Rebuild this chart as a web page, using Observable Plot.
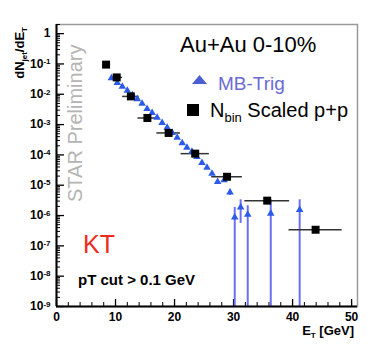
<!DOCTYPE html>
<html>
<head>
<meta charset="utf-8">
<script src="https://cdn.jsdelivr.net/npm/d3@7"></script>
<script src="https://cdn.jsdelivr.net/npm/@observablehq/plot@0.6"></script>
<style>
  html, body { margin: 0; padding: 0; background: white; }
  svg { display: block; }
</style>
</head>
<body>
<div id="chart"></div>
<script>
// N_bin scaled p+p (black squares)
const ppE = [8.4, 10.2, 12.6, 15.4, 19.0, 23.5, 28.9, 35.7, 43.9];
const ppVal = [0.095, 0.036, 0.0085, 1.65e-3, 5.3e-4, 1.1e-4, 1.9e-5, 3.1e-6, 3.4e-7];
const ppErrX = [0.6, 1.0, 1.4, 1.6, 2.0, 2.4, 2.6, 3.8, 4.5];

// MB-Trig (blue triangles)
const mbE = [9.3, 10.3, 11.15, 12.0, 12.85, 13.7, 14.5, 15.35, 16.2, 17.05, 17.9, 18.75, 19.6,
             20.45, 21.3, 22.1, 22.95, 23.8, 24.65, 25.5, 26.35, 27.3, 28.4, 29.4,
             30.2, 31.2, 32.4, 36.3, 41.2];
const mbVal = [0.034, 0.024, 0.0178, 0.0132, 0.0093, 0.0069, 0.0049, 0.0033, 0.00246, 0.0017,
               0.00115, 0.00079, 0.00054, 0.00037, 0.000244, 0.000174, 0.000128, 8.7e-5,
               5.5e-5, 3.8e-5, 2.4e-5, 1.3e-5, 1.47e-5, 5.8e-6,
               8.7e-7, 1.85e-6, 1.07e-6, 1.17e-6, 1.55e-6];
const mbErrE = [29.4, 30.2, 31.2, 32.4, 36.3, 41.2];
const mbErrHi = [7.2e-6, 1.85e-6, 3.3e-6, 2.1e-6, 3.3e-6, 3.3e-6];
const mbErrLo = [4.6e-6, 1e-9, 5.5e-7, 1e-9, 1e-9, 1e-9];

// axes
const xTicks = [0, 10, 20, 30, 40, 50];
const xMinor = [2,4,6,8,12,14,16,18,22,24,26,28,32,34,36,38,42,44,46,48,50];
const yDecades = [1, 1e-1, 1e-2, 1e-3, 1e-4, 1e-5, 1e-6, 1e-7, 1e-8, 1e-9];
const yExp = [0, -1, -2, -3, -4, -5, -6, -7, -8, -9];
const yMinor = [];
for (const d of yDecades) for (const m of [2,3,4,5,6,7,8,9]) if (d * m <= 2) yMinor.push(d * m);

const W = 382, H = 350, mL = 56, mR = 25, mT = 24, mB = 44;
const pw = W - mL - mR, ph = H - mT - mB;

const plot = Plot.plot({
  width: W, height: H,
  marginLeft: mL, marginRight: mR, marginTop: mT, marginBottom: mB,
  x: {domain: [0, 51]},
  y: {type: "log", domain: [1e-9, 2]},
  style: {fontFamily: "'Liberation Sans', Arial, sans-serif", background: "white", color: "black"},
  marks: [
    Plot.frame({stroke: "#9a9a9a", strokeWidth: 1.5}),
    Plot.tickY(yDecades, {y: d => d, insetRight: pw - 8, stroke: "black", strokeWidth: 1.3}),
    Plot.tickY(yMinor, {y: d => d, insetRight: pw - 4, stroke: "black", strokeWidth: 1}),
    Plot.tickX(xTicks, {x: d => d, insetTop: ph - 7, stroke: "black", strokeWidth: 1.3}),
    Plot.tickX(xMinor, {x: d => d, insetTop: ph - 4, stroke: "black", strokeWidth: 1}),
    Plot.ruleX(mbErrE, {x: d => d, y1: (d, i) => mbErrLo[i], y2: (d, i) => mbErrHi[i], stroke: "#6e6ef0", strokeWidth: 2}),
    Plot.ruleY(ppE, {y: (d, i) => ppVal[i], x1: (d, i) => d - ppErrX[i], x2: (d, i) => d + ppErrX[i], stroke: "#333", strokeWidth: 1.5}),
    Plot.dot(mbE, {x: d => d, y: (d, i) => mbVal[i], symbol: "triangle", r: 2.8, fill: "#2b5be8", stroke: "none"}),
    Plot.dot(ppE, {x: d => d, y: (d, i) => ppVal[i], symbol: "square", r: 4.5, fill: "black", stroke: "none"}),
    Plot.ruleX([0], {stroke: "black", strokeWidth: 2}),
    Plot.ruleY([1e-9], {stroke: "black", strokeWidth: 2}),
    Plot.axisX({ticks: xTicks, tickSize: 0, tickPadding: 6, fontWeight: "bold", fontSize: 12, label: null}),
    Plot.axisY({ticks: yDecades, tickSize: 0, tickPadding: 6, fontWeight: "bold", fontSize: 12, label: null,
      tickFormat: d => { const e = Math.round(Math.log10(d)); return e === 0 ? "1" : "10^" + e; }})
  ]
});
document.getElementById("chart").appendChild(plot);

const svg = d3.select(plot);
const font = "'Liberation Sans', Arial, sans-serif";

// superscripts in y tick labels
svg.selectAll('g[aria-label="y-axis tick label"] text').each(function() {
  const t = d3.select(this);
  const s = t.text();
  if (s.indexOf("^") < 0) return;
  const [b, e] = s.split("^");
  t.text(null);
  t.append("tspan").text(b);
  t.append("tspan").attr("dy", "-0.45em").attr("font-size", 8).text(e);
});

function addText(x, y, parts, opts = {}) {
  const t = svg.append("text")
    .attr("x", x).attr("y", y)
    .attr("font-family", font)
    .attr("font-size", opts.size || 12)
    .attr("font-weight", opts.weight || "normal")
    .attr("fill", opts.fill || "black")
    .attr("text-anchor", opts.anchor || "start");
  if (opts.transform) t.attr("transform", opts.transform).attr("x", 0).attr("y", 0);
  let shift = 0;
  for (const p of parts) {
    const sp = t.append("tspan").text(p.t);
    const target = p.sub ? (p.subDy || 4) : 0;
    if (target !== shift) { sp.attr("dy", target - shift); shift = target; }
    if (p.size) sp.attr("font-size", p.size);
  }
  return t;
}

addText(180, 52, [{t: "Au+Au 0-10%"}], {size: 22});
svg.append("path").attr("d", "M192,84L207,84L199.5,75Z").attr("fill", "#4b5fd2");
addText(218, 90, [{t: "MB-Trig"}], {size: 19, fill: "#6b6bd6"});
svg.append("rect").attr("x", 187).attr("y", 104).attr("width", 12).attr("height", 12).attr("fill", "black");
addText(210, 117, [{t: "N"}, {t: "bin", sub: true, size: 13, subDy: 5}, {t: " Scaled p+p"}], {size: 20});
addText(0, 0, [{t: "STAR Preliminary"}], {size: 20, fill: "#b4b4b4", transform: "translate(82,202) rotate(-90)"});
addText(83, 253, [{t: "KT"}], {size: 25, fill: "#ee2a1c"});
addText(78, 285, [{t: "pT cut > 0.1 GeV"}], {size: 15, weight: "bold"});
addText(0, 0, [{t: "dN"}, {t: "jet", sub: true, size: 8, subDy: 3}, {t: "/dE"}, {t: "T", sub: true, size: 8, subDy: 3}],
  {size: 13, weight: "bold", anchor: "end", transform: "translate(24,27) rotate(-90)"});
addText(354, 335, [{t: "E"}, {t: "T", sub: true, size: 8, subDy: 3}, {t: " [GeV]"}], {size: 13, weight: "bold", anchor: "end"});
</script>
</body>
</html>
